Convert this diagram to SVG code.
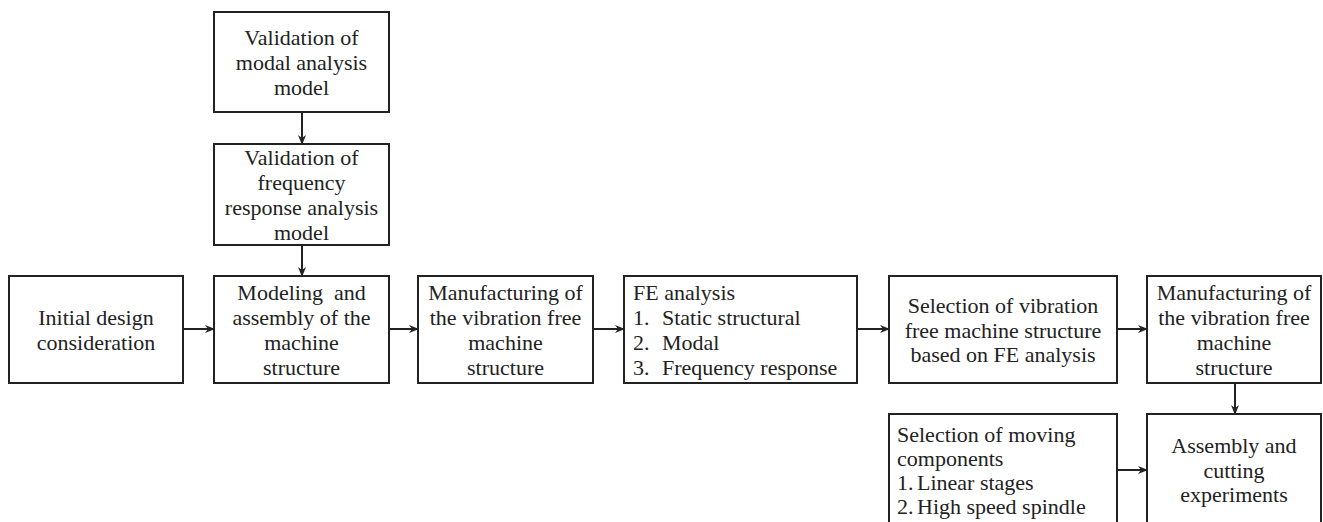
<svg xmlns="http://www.w3.org/2000/svg" width="1323" height="522" viewBox="0 0 1323 522">
<style>
.box{fill:#fff;stroke:#222;stroke-width:2}
.t{font-family:"Liberation Serif","Times New Roman",serif;font-size:22px;fill:#222}
.c{text-anchor:middle}
.ln{stroke:#222;stroke-width:2;fill:none;marker-end:url(#ah)}
</style>
<defs>
<marker id="ah" viewBox="0 0 10 10" refX="9" refY="5" markerWidth="10" markerHeight="10" markerUnits="userSpaceOnUse" orient="auto">
<path d="M0,1 L10,5 L0,9 L3,5 z" fill="#222"/>
</marker>
</defs>
<rect width="1323" height="522" fill="#fff"/>
<g id="connectors">
<line class="ln" x1="302" y1="112" x2="302" y2="144"/>
<line class="ln" x1="302" y1="245" x2="302" y2="276"/>
<line class="ln" x1="183" y1="329" x2="214" y2="329"/>
<line class="ln" x1="389" y1="329" x2="418" y2="329"/>
<line class="ln" x1="593" y1="329" x2="624" y2="329"/>
<line class="ln" x1="857" y1="329" x2="889" y2="329"/>
<line class="ln" x1="1117" y1="329" x2="1147" y2="329"/>
<line class="ln" x1="1235" y1="383" x2="1235" y2="414"/>
<line class="ln" x1="1117" y1="470" x2="1147" y2="470"/>
</g>
<g id="val-modal">
<rect class="box" x="214" y="12" width="175" height="100"/>
<text class="t c" x="301.5" y="45">Validation of</text>
<text class="t c" x="301.5" y="70">modal analysis</text>
<text class="t c" x="301.5" y="95">model</text>
</g>
<g id="val-freq">
<rect class="box" x="214" y="144" width="175" height="101"/>
<text class="t c" x="301.5" y="165">Validation of</text>
<text class="t c" x="301.5" y="190">frequency</text>
<text class="t c" x="301.5" y="215">response analysis</text>
<text class="t c" x="301.5" y="240">model</text>
</g>
<g id="initial">
<rect class="box" x="9" y="276" width="174" height="107"/>
<text class="t c" x="96" y="325">Initial design</text>
<text class="t c" x="96" y="350">consideration</text>
</g>
<g id="modeling">
<rect class="box" x="214" y="276" width="175" height="107"/>
<text class="t c" x="301.5" y="300">Modeling&#160; and</text>
<text class="t c" x="301.5" y="325">assembly of the</text>
<text class="t c" x="301.5" y="350">machine</text>
<text class="t c" x="301.5" y="375">structure</text>
</g>
<g id="manufacturing1">
<rect class="box" x="418" y="276" width="175" height="107"/>
<text class="t c" x="505.5" y="300">Manufacturing of</text>
<text class="t c" x="505.5" y="325">the vibration free</text>
<text class="t c" x="505.5" y="350">machine</text>
<text class="t c" x="505.5" y="375">structure</text>
</g>
<g id="fe-analysis">
<rect class="box" x="624" y="276" width="233" height="107"/>
<text class="t" x="633" y="300">FE analysis</text>
<text class="t" x="633" y="325">1.</text><text class="t" x="662" y="325">Static structural</text>
<text class="t" x="633" y="350">2.</text><text class="t" x="662" y="350">Modal</text>
<text class="t" x="633" y="375">3.</text><text class="t" x="662" y="375">Frequency response</text>
</g>
<g id="selection-vib">
<rect class="box" x="889" y="276" width="228" height="107"/>
<text class="t c" x="1003" y="313">Selection of vibration</text>
<text class="t c" x="1003" y="338">free machine structure</text>
<text class="t c" x="1003" y="362">based on FE analysis</text>
</g>
<g id="manufacturing2">
<rect class="box" x="1147" y="276" width="174" height="107"/>
<text class="t c" x="1234" y="300">Manufacturing of</text>
<text class="t c" x="1234" y="325">the vibration free</text>
<text class="t c" x="1234" y="350">machine</text>
<text class="t c" x="1234" y="375">structure</text>
</g>
<g id="selection-moving">
<rect class="box" x="889" y="414" width="228" height="120"/>
<text class="t" x="897" y="442">Selection of moving</text>
<text class="t" x="897" y="466">components</text>
<text class="t" x="897" y="490">1.</text><text class="t" x="917" y="490">Linear stages</text>
<text class="t" x="897" y="514">2.</text><text class="t" x="917" y="514">High speed spindle</text>
</g>
<g id="assembly">
<rect class="box" x="1147" y="414" width="174" height="120"/>
<text class="t c" x="1234" y="453">Assembly and</text>
<text class="t c" x="1234" y="478">cutting</text>
<text class="t c" x="1234" y="502">experiments</text>
</g>
</svg>
